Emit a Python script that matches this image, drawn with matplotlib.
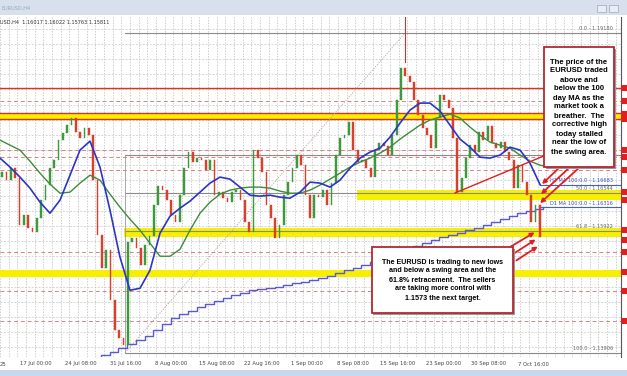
import matplotlib.pyplot as plt
import numpy as np
from matplotlib.patches import Rectangle, FancyArrowPatch
from matplotlib.lines import Line2D

W, H = 627, 376

# EURUSD H4 closes (one candle per 3 bars)
closes = [1.16889, 1.16757, 1.16955, 1.16790, 1.16016, 1.16181, 1.15966, 1.15900, 1.16131, 1.16428,
          1.16675, 1.16955, 1.17087, 1.17417, 1.17532, 1.17664, 1.17779, 1.17548, 1.17450, 1.17614,
          1.17499, 1.16757, 1.15851, 1.15307, 1.15604, 1.14780, 1.14285, 1.14154, 1.14038, 1.15736,
          1.15802, 1.15637, 1.15357, 1.15686, 1.15835, 1.16345, 1.16659, 1.16593, 1.16428, 1.16181,
          1.16065, 1.16510, 1.16955, 1.17219, 1.17054, 1.17120, 1.17087, 1.16922, 1.17087, 1.16510,
          1.16560, 1.16461, 1.16395, 1.16560, 1.16593, 1.16428, 1.16065, 1.15900, 1.17252, 1.17120,
          1.16889, 1.16345, 1.16131, 1.15802, 1.16016, 1.16510, 1.16724, 1.16955, 1.17169, 1.17005,
          1.16510, 1.16131, 1.16510, 1.16477, 1.16593, 1.16345, 1.16708, 1.17169, 1.17450, 1.17499,
          1.17713, 1.17252, 1.17054, 1.17087, 1.16955, 1.16807, 1.17252, 1.17367, 1.17318, 1.17169,
          1.17499, 1.18076, 1.18603, 1.18471, 1.18372, 1.18076, 1.17829, 1.17614, 1.17499, 1.17285,
          1.17779, 1.18158, 1.18076, 1.17944, 1.17450, 1.16560, 1.16790, 1.17120, 1.17334, 1.17219,
          1.17548, 1.17417, 1.17647, 1.17367, 1.17285, 1.17384, 1.17219, 1.17087, 1.16626, 1.17005,
          1.16724, 1.16510, 1.16065, 1.16345, 1.15811]
first_open = 1.16800

# moving averages sampled along the chart
ma_blue = [1.17118, 1.16970, 1.16805, 1.16623, 1.16392, 1.16210, 1.16425, 1.16837, 1.17250, 1.17398,
           1.16970, 1.16260, 1.15484, 1.14940, 1.14973, 1.15270, 1.15880, 1.16161, 1.16293, 1.16409,
           1.16557, 1.16706, 1.16805, 1.16772, 1.16640, 1.16507, 1.16491, 1.16507, 1.16474, 1.16458,
           1.16557, 1.16722, 1.16706, 1.16640, 1.16755, 1.16953, 1.17118, 1.17217, 1.17283, 1.17464,
           1.17695, 1.17910, 1.18025, 1.18025, 1.17893, 1.17662, 1.17431, 1.17299, 1.17134, 1.17118,
           1.17168, 1.17299, 1.17250, 1.17035, 1.16683]
ma_green = [1.17415, 1.17332, 1.17250, 1.17068, 1.16870, 1.16689, 1.16540, 1.16557, 1.16706, 1.16837,
            1.16755, 1.16524, 1.16309, 1.16111, 1.15930, 1.15715, 1.15501, 1.15501, 1.15616, 1.15930,
            1.16210, 1.16392, 1.16524, 1.16590, 1.16623, 1.16640, 1.16640, 1.16623, 1.16574, 1.16540,
            1.16540, 1.16590, 1.16673, 1.16772, 1.16870, 1.16970, 1.17052, 1.17118, 1.17200, 1.17299,
            1.17431, 1.17547, 1.17662, 1.17745, 1.17794, 1.17844, 1.17778, 1.17629, 1.17497, 1.17382,
            1.17332, 1.17283, 1.17168, 1.17068, 1.17002, 1.16970]
# daily 100 MA shown as steps on the H4 chart
ma_daily = [1.13817, 1.13867, 1.13917, 1.13983, 1.14049, 1.14115, 1.14181, 1.14280, 1.14379, 1.14478,
            1.14544, 1.14593, 1.14659, 1.14709, 1.14758, 1.14808, 1.14857, 1.14890, 1.14940, 1.14956,
            1.14973, 1.14989, 1.15022, 1.15055, 1.15072, 1.15105, 1.15138, 1.15171, 1.15220, 1.15270,
            1.15303, 1.15352, 1.15402, 1.15468, 1.15534, 1.15583, 1.15633, 1.15666, 1.15715, 1.15765,
            1.15814, 1.15847, 1.15880, 1.15930, 1.15963, 1.16012, 1.16062, 1.16111, 1.16160, 1.16210,
            1.16243, 1.16276, 1.16309]

fib_low, fib_high = 1.13906, 1.19180
fib_levels = [("0.0", 1.19180), ("38.2", 1.17165), ("50.0", 1.16544), ("61.8", 1.15922), ("100.0", 1.13906)]
h1_ma, d1_ma = 1.16683, 1.16316

red_solid = [1.18272, 1.17860, 1.17761]
red_dashed = [1.18058, 1.17250, 1.17134, 1.16920, 1.15567, 1.14923, 1.14428]
# (low, high, start pixel)
yellow_bands = [(1.17761, 1.17860, 0), (1.16425, 1.16590, 357), (1.15814, 1.15963, 124), (1.15155, 1.15270, 0)]

time_labels = ["17 Jul 00:00", "24 Jul 08:00", "31 Jul 16:00", "8 Aug 00:00", "15 Aug 08:00",
               "22 Aug 16:00", "1 Sep 00:00", "8 Sep 08:00", "15 Sep 16:00", "23 Sep 00:00",
               "30 Sep 08:00", "7 Oct 16:00"]
right_tags = [88, 101, 114, 119, 150, 157, 170, 192, 200, 230, 240, 252, 272, 291, 321]

PXB = 1.445  # pixels per H4 bar
XMAX = 621 / PXB
YTOP = fib_high + 16 * 0.000165
YBOT = fib_low - 4 * 0.000165


def fx(x):
    return x / W


def fy(y):
    return 1 - y / H


fig = plt.figure(figsize=(W / 100, H / 100), dpi=100)
fig.patch.set_facecolor("white")
ax = fig.add_axes([0, fy(357), fx(621), (357 - 17) / H])
ax.set_xlim(0, XMAX)
ax.set_ylim(YBOT, YTOP)
ax.set_xticks([])
ax.set_yticks([])
for s in ["left", "top", "bottom"]:
    ax.spines[s].set_visible(False)
ax.spines["right"].set_color("#555555")
ax.spines["right"].set_linewidth(0.8)

# grid
for b in np.arange(0, XMAX, 6):
    ax.axvline(b, color="#b8b8b8", lw=0.5, ls=(0, (2, 2)), zorder=0)
for p in np.arange(1.1400, 1.1950, 0.0025):
    ax.axhline(p, color="#c8c8c8", lw=0.5, ls=(0, (3, 2)), zorder=0)

# yellow swing areas
for lo, hi, x0 in yellow_bands:
    ax.fill_between([x0 / PXB, XMAX], lo, hi, color="#f7ef00", lw=0, zorder=1)
for p in red_solid:
    ax.axhline(p, color="#e0301e", lw=1.0, zorder=2)
for p in red_dashed:
    ax.axhline(p, color="#e08080", lw=0.7, ls=(0, (4, 3)), zorder=1)

# fibonacci retracement
fx0 = 125 / PXB
fx1 = 405 / PXB
for name, lv in fib_levels:
    ax.plot([fx0, XMAX], [lv, lv], color="#8a8a8a", lw=0.8, zorder=2)
    if name != "38.2":  # hidden behind the note box
        ax.text(613 / PXB, lv + 0.0003, f"{name} - {lv:.5f}", fontsize=3.6, color="#666666",
                ha="right", va="bottom", zorder=6)
ax.plot([fx0, fx1], [fib_low, fib_high], color="#c0a0a0", lw=0.6, ls=(0, (1.5, 1.5)), zorder=2)
ax.plot([fx0, fx0], [fib_low, fib_levels[1][1]], color="#9a9a9a", lw=0.6, zorder=2)
ax.plot([fx1, fx1], [1.1870, YTOP], color="#d03030", lw=0.8, zorder=2)

# MA reference lines
ax.plot([540 / PXB, XMAX], [h1_ma, h1_ma], color="#4060d0", lw=0.8, zorder=3)
ax.plot([540 / PXB, XMAX], [d1_ma, d1_ma], color="#4060d0", lw=0.8, zorder=3)
ax.text(613 / PXB, h1_ma + 0.0002, f"H1 MA 100:0.0 - {h1_ma:.5f}", fontsize=3.6, color="#4050c0",
        ha="right", va="bottom", zorder=6)
ax.text(613 / PXB, d1_ma + 0.0002, f"D1 MA 100:0.0 - {d1_ma:.5f}", fontsize=3.6, color="#4050c0",
        ha="right", va="bottom", zorder=6)

# daily MA steps
step_x = 64 + 6 * np.arange(len(ma_daily))
ax.plot(step_x, ma_daily, drawstyle="steps-post", color="#5a5ad0", lw=1.0, zorder=3)

# candles
opens = [first_open] + closes[:-1]
cx = 1.5 + 3 * np.arange(len(closes))
for x, o, c in zip(cx, opens, closes):
    col = "#3c9a3c" if c >= o else "#d8402c"
    ax.add_patch(Rectangle((x - 0.6, min(o, c)), 1.2, max(abs(c - o), 0.00006),
                           facecolor=col, edgecolor=col, lw=0.3, zorder=4))

# moving averages
mx = np.linspace(0, 540 / PXB, len(ma_blue))
gx = np.linspace(0, 550 / PXB, len(ma_green))
ax.plot(gx, ma_green, color="#3c8c3c", lw=1.0, zorder=5)
ax.plot(mx, ma_blue, color="#2a35c8", lw=1.2, zorder=5)

# header inside chart
fig.text(fx(0), fy(22), "USD,H4  1.16017 1.16022 1.15763 1.15811", fontsize=3.6,
         color="#333333", va="center", ha="left")

# title bar / bottom bar
fig.add_artist(Rectangle((0, fy(15)), 1, 15 / H, transform=fig.transFigure,
                         facecolor="#d7e0ec", edgecolor="none"))
fig.text(fx(2), fy(8), "EURUSD,H4", fontsize=3.6, color="#9aa8bb", va="center")
for bx in (597, 609):
    fig.add_artist(Rectangle((fx(bx), fy(12)), 9 / W, 7 / H, transform=fig.transFigure,
                             facecolor="#e8eef5", edgecolor="#9aa8bb", lw=0.5))
fig.add_artist(Rectangle((0, 0), 1, 6 / H, transform=fig.transFigure,
                         facecolor="#c9d8ea", edgecolor="none"))

# time axis labels
for k, lab in enumerate(time_labels):
    fig.text(fx(35.5 + 45.3 * k), fy(364), lab, fontsize=3.8, color="#444444",
             ha="center", va="center")
fig.text(fx(0), fy(364), "25", fontsize=3.8, color="#444444", ha="left", va="center")

# right price-axis tags
for ty in right_tags:
    fig.add_artist(Rectangle((fx(621), fy(ty + 3)), 6 / W, 6 / H, transform=fig.transFigure,
                             facecolor="#e02020", edgecolor="none"))

# annotations
red = "#e02020"
fig.add_artist(Line2D([fx(455), fx(546)], [fy(193), fy(155)], transform=fig.transFigure,
                      color=red, lw=1.0, zorder=6))
for (x0, y0), (x1, y1) in [((560, 167), (540, 186)), ((570, 167), (539, 196)), ((580, 167), (538, 205)),
                           ((505, 250), (537, 231)), ((510, 256), (538, 238)), ((514, 262), (540, 245))]:
    fig.add_artist(FancyArrowPatch((fx(x0), fy(y0)), (fx(x1), fy(y1)), transform=fig.transFigure,
                                   arrowstyle="-|>", mutation_scale=6, color=red, lw=1.3, zorder=7))


def note_box(x0, y0, x1, y1, txt, size):
    fig.add_artist(Rectangle((fx(x0) + 1.5 / W, fy(y1) - 1.5 / H), (x1 - x0) / W, (y1 - y0) / H,
                             transform=fig.transFigure, facecolor="#9a9a9a", edgecolor="none",
                             zorder=8))
    fig.add_artist(Rectangle((fx(x0), fy(y1)), (x1 - x0) / W, (y1 - y0) / H, transform=fig.transFigure,
                             facecolor="white", edgecolor="#b02a30", lw=1.3, zorder=9))
    fig.text(fx((x0 + x1) / 2), fy((y0 + y1) / 2), txt, fontsize=size, fontweight="bold",
             family="Liberation Sans", ha="center", va="center", linespacing=1.4, zorder=10)


note_box(544, 47, 614, 167,
         "The price of the\nEURUSD traded\nabove and\nbelow the 100\nday MA as the\nmarket took a\n"
         "breather.  The\ncorrective high\ntoday stalled\nnear the low of\nthe swing area.", 5.5)
note_box(372, 247, 513, 313,
         "The EURUSD is trading to new lows\nand below a swing area and the\n61.8% retracement.  The sellers\n"
         "are taking more control with\n1.1573 the next target.", 5.1)

fig.savefig("out.png", dpi=100)
